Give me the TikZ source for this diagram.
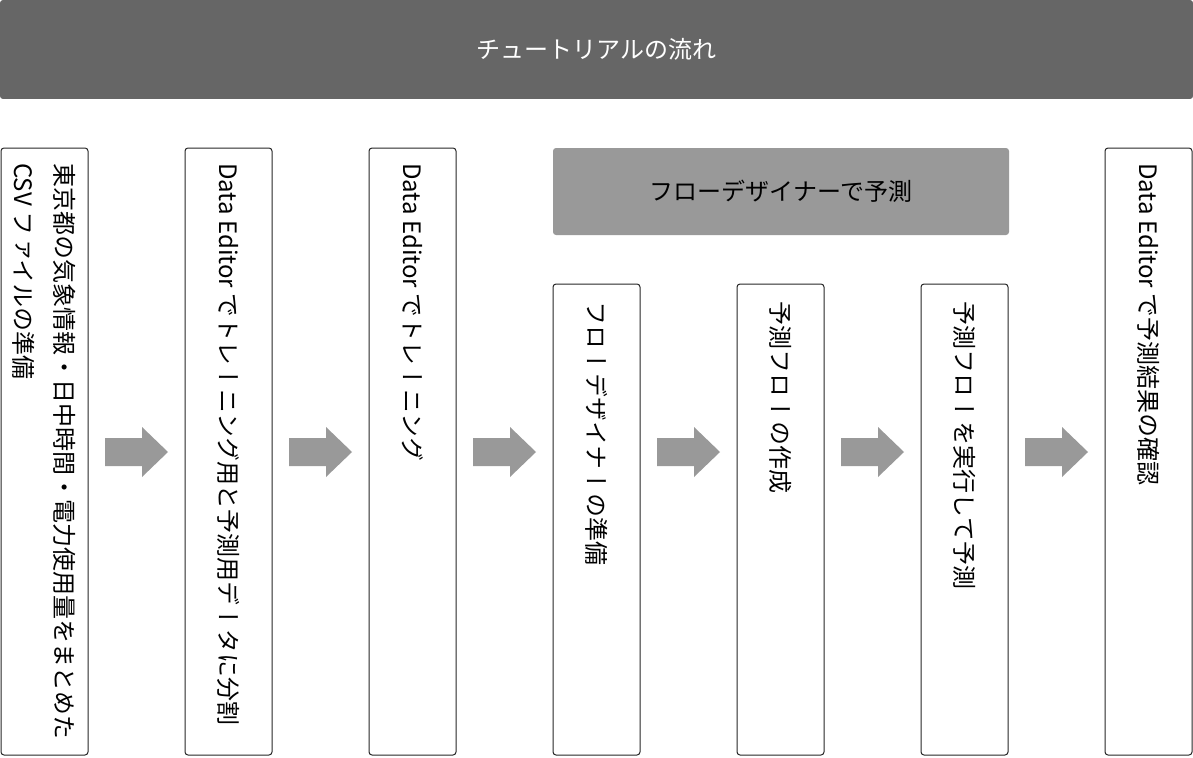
\documentclass[tikz,border=0pt]{standalone}
\usepackage{fontspec}
\newfontfamily\jpfont{Noto Sans CJK JP}
\newfontfamily\jpvert[Vertical=RotatedGlyphs]{Noto Sans CJK JP}
\definecolor{bannergray}{HTML}{666666}
\definecolor{groupgray}{HTML}{999999}
\definecolor{arrowgray}{HTML}{999999}

\begin{document}
\begin{tikzpicture}[x=1pt, y=-1pt]
    \tikzstyle{banner}=[rectangle, fill=bannergray, rounded corners=3pt, minimum width=1193pt, minimum height=99pt, text=white, font=\jpfont\fontsize{24pt}{30pt}\selectfont]
    \tikzstyle{group}=[rectangle, fill=groupgray, rounded corners=3pt, minimum width=456pt, minimum height=87pt, font=\jpfont\fontsize{24pt}{30pt}\selectfont]
    \tikzstyle{stepbox}=[rectangle, draw=black!85, line width=1pt, rounded corners=3pt, minimum width=87pt, minimum height=607pt]
    \tikzstyle{stepboxs}=[stepbox, minimum height=471pt]
    \tikzstyle{vlab}=[rotate=-90, anchor=west, inner sep=0pt, align=left, font=\jpvert\fontsize{24pt}{41pt}\selectfont]
    \tikzstyle{blockarrow}=[fill=arrowgray]

    \useasboundingbox (0,0) rectangle (1193,757);

    \node[banner] (title) at (596.5,49.5) {チュートリアルの流れ};
    \node[group] (flow) at (781,191.5) {フローデザイナーで予測};

    \node[stepbox] (s1) at (44.5,451.5) {};
    \node[stepbox] (s2) at (228.5,451.5) {};
    \node[stepbox] (s3) at (412.5,451.5) {};
    \node[stepboxs] (s4) at (596.5,519.5) {};
    \node[stepboxs] (s5) at (780.5,519.5) {};
    \node[stepboxs] (s6) at (964.5,519.5) {};
    \node[stepbox] (s7) at (1148.5,451.5) {};

    \node[vlab] (l1) at (44.5,163) {東京都の気象情報・日中時間・電力使用量をまとめた\\CSV ファイルの準備};
    \node[vlab] (l2) at (228.5,163) {Data Editor でトレーニング用と予測用データに分割};
    \node[vlab] (l3) at (412.5,163) {Data Editor でトレーニング};
    \node[vlab] (l4) at (596.5,301) {フローデザイナーの準備};
    \node[vlab] (l5) at (780.5,301) {予測フローの作成};
    \node[vlab] (l6) at (964.5,301) {予測フローを実行して予測};
    \node[vlab] (l7) at (1148.5,163) {Data Editor で予測結果の確認};

    \foreach \x in {105,289,...,1025}
        \fill[blockarrow] (\x,438) -- ++(37,0) -- ++(0,-11) -- ++(26,25) -- ++(-26,25) -- ++(0,-11) -- ++(-37,0) -- cycle;
\end{tikzpicture}
\end{document}
